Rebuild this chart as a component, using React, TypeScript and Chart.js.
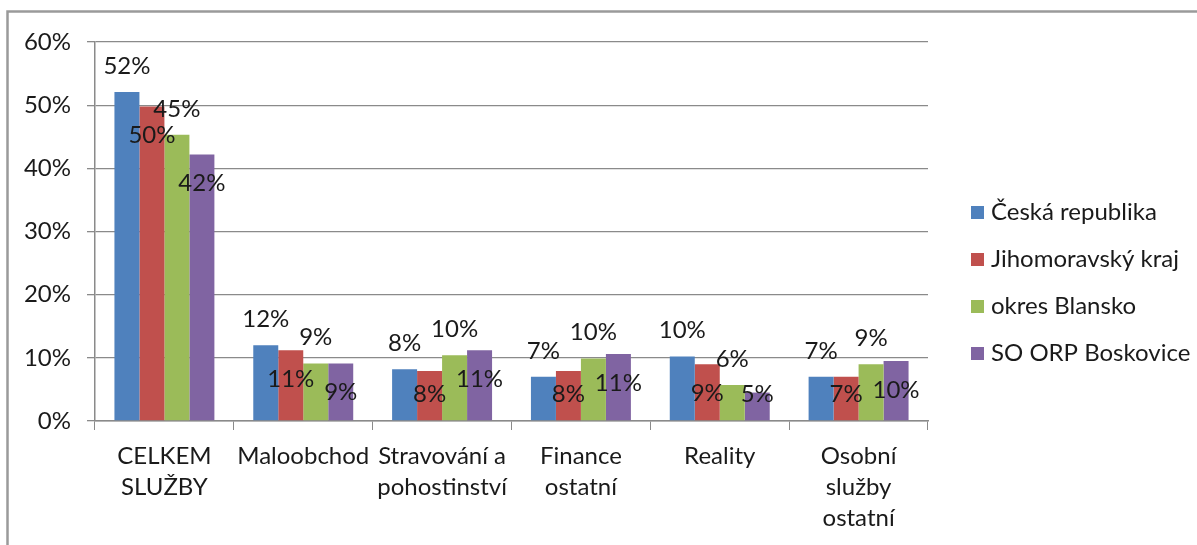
import React, { useEffect, useRef } from "react";
import { Chart, registerables } from "chart.js";

Chart.register(...registerables);

const categories: string[][] = [
  ["CELKEM", "SLUŽBY"],
  ["Maloobchod"],
  ["Stravování a", "pohostinství"],
  ["Finance", "ostatní"],
  ["Reality"],
  ["Osobní", "služby", "ostatní"],
];

const seriesNames = ["Česká republika", "Jihomoravský kraj", "okres Blansko", "SO ORP Boskovice"];
const ceskaRepublika = [52.1, 12.0, 8.2, 7.0, 10.2, 7.0];
const jihomoravskyKraj = [49.8, 11.2, 7.9, 7.9, 9.0, 7.0];
const okresBlansko = [45.3, 9.1, 10.4, 9.9, 5.7, 9.0];
const soOrpBoskovice = [42.2, 9.1, 11.2, 10.6, 4.5, 9.5];
const yTicks = [0, 10, 20, 30, 40, 50, 60];

const colors = ["#4F81BD", "#C0504D", "#9BBB59", "#8064A2"];
const FONT = "Lato, 'DejaVu Sans', sans-serif";
const TEXT = "#1a1a1a";

const frame = {
  id: "frame",
  beforeDraw(chart: any) {
    const ctx = chart.ctx;
    ctx.save();
    ctx.fillStyle = "#fff";
    ctx.fillRect(0, 0, chart.width, chart.height);
    ctx.strokeStyle = "#9a9a9a";
    ctx.lineWidth = 2.5;
    ctx.beginPath();
    ctx.moveTo(7.5, chart.height + 5);
    ctx.lineTo(7.5, 11.5);
    ctx.lineTo(chart.width + 5, 11.5);
    ctx.stroke();
    ctx.restore();
  },
};

const valueLabels = {
  id: "valueLabels",
  afterDatasetsDraw(chart: any) {
    const ctx = chart.ctx;
    ctx.save();
    ctx.font = `24px ${FONT}`;
    ctx.fillStyle = TEXT;
    ctx.textAlign = "center";
    ctx.textBaseline = "middle";
    chart.data.datasets.forEach((ds: any, di: number) => {
      const meta = chart.getDatasetMeta(di);
      meta.data.forEach((bar: any, i: number) => {
        const v = ds.data[i];
        const txt = Math.round(v) + "%";
        const y = di % 2 === 0 ? bar.y - 26 : Math.min(bar.y + 29, bar.base - 26);
        ctx.fillText(txt, bar.x, y);
      });
    });
    ctx.restore();
  },
};

const sideLegend = {
  id: "sideLegend",
  afterDraw(chart: any) {
    const ctx = chart.ctx;
    const area = chart.chartArea;
    ctx.save();
    ctx.font = `24px ${FONT}`;
    ctx.textAlign = "left";
    ctx.textBaseline = "middle";
    const x0 = area.right + 43;
    const y0 = 212;
    const step = 47;
    chart.data.datasets.forEach((ds: any, i: number) => {
      const y = y0 + i * step;
      ctx.fillStyle = ds.backgroundColor;
      ctx.fillRect(x0, y - 6, 13, 13);
      ctx.fillStyle = TEXT;
      ctx.fillText(ds.label, x0 + 20, y);
    });
    ctx.restore();
  },
};

export default function App() {
  const ref = useRef<HTMLCanvasElement | null>(null);
  useEffect(() => {
    if (!ref.current) return;
    const seriesData = [ceskaRepublika, jihomoravskyKraj, okresBlansko, soOrpBoskovice];
    const chart = new Chart(ref.current, {
      type: "bar",
      data: {
        labels: categories,
        datasets: seriesNames.map((name, i) => ({
          label: name,
          data: seriesData[i],
          backgroundColor: colors[i],
          borderWidth: 0,
          categoryPercentage: 0.72,
          barPercentage: 1.0,
        })),
      },
      options: {
        responsive: false,
        animation: false,
        devicePixelRatio: 1,
        layout: { padding: { left: 0, top: 42, right: 269, bottom: 0 } },
        plugins: {
          legend: { display: false },
          tooltip: { enabled: false },
        },
        scales: {
          x: {
            grid: {
              display: true,
              drawOnChartArea: false,
              drawTicks: true,
              tickLength: 9,
              color: "#8a8a8a",
              offset: true,
            },
            border: { color: "#8a8a8a", width: 1.5 },
            ticks: {
              color: TEXT,
              font: { family: FONT, size: 24, lineHeight: 1.29 },
              padding: 11,
              maxRotation: 0,
              autoSkip: false,
            },
            afterFit: (s: any) => {
              s.height = 124;
            },
          },
          y: {
            min: 0,
            max: 60,
            afterBuildTicks: (s: any) => {
              s.ticks = yTicks.map((v) => ({ value: v }));
            },
            grid: { color: "#8a8a8a", lineWidth: 1.3, tickLength: 8 },
            border: { color: "#8a8a8a", width: 1.5 },
            ticks: {
              color: TEXT,
              font: { family: FONT, size: 24 },
              padding: 16,
              callback: (v: any) => v + "%",
            },
            afterFit: (s: any) => {
              s.width = 95;
            },
          },
        },
      },
      plugins: [frame, valueLabels, sideLegend],
    });
    return () => chart.destroy();
  }, []);
  return (
    <div style={{ position: "fixed", left: 0, top: 0, width: 1197, height: 545, background: "#fff" }}>
      <canvas ref={ref} width={1197} height={545} style={{ display: "block", width: 1197, height: 545 }} />
    </div>
  );
}
